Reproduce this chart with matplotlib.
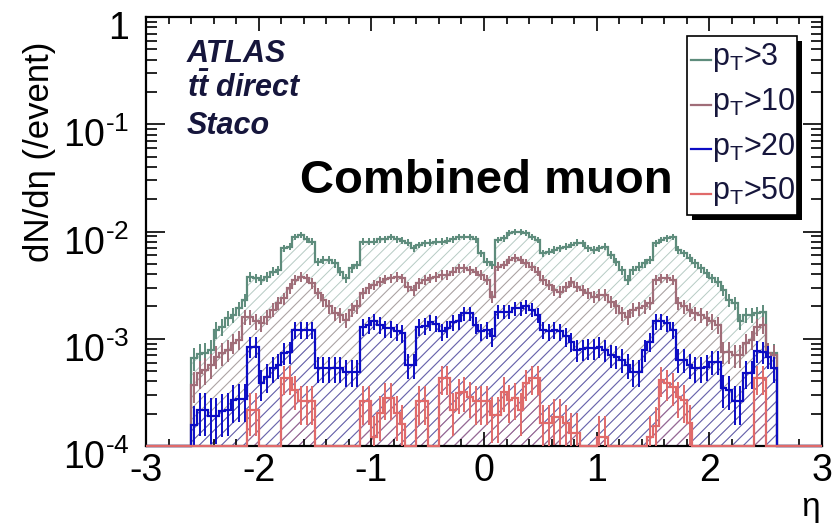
import numpy as np
import matplotlib.pyplot as plt
import matplotlib.colors as mcolors
from matplotlib.patches import Rectangle
from matplotlib.lines import Line2D
from matplotlib.transforms import ScaledTranslation
from matplotlib.ticker import MultipleLocator, LogLocator, FixedLocator, FixedFormatter, NullFormatter

plt.rcParams['font.family'] = ['Liberation Sans', 'DejaVu Sans']
plt.rcParams['mathtext.fontset'] = 'custom'
plt.rcParams['mathtext.rm'] = 'Liberation Sans'
plt.rcParams['mathtext.it'] = 'Liberation Sans:italic'
plt.rcParams['mathtext.bf'] = 'Liberation Sans:bold'
plt.rcParams['mathtext.bfit'] = 'Liberation Sans:bold:italic'
plt.rcParams['axes.unicode_minus'] = False
plt.rcParams['hatch.linewidth'] = 0.7

# dN/deta per event in units of 1e-3, 0.05 wide bins from eta = -2.6 to 2.6
pt3 = [0.66, 0.72, 0.74, 0.79, 1.21, 1.30, 1.55, 1.67, 1.92, 2.30,
       3.80, 3.67, 3.54, 3.80, 4.23, 4.38, 6.98, 7.23, 8.84, 9.29,
       8.47, 8.05, 5.25, 5.44, 5.44, 5.06, 4.23, 3.67, 4.54, 4.88,
       8.05, 8.05, 8.05, 8.47, 8.47, 8.84, 8.47, 8.23, 7.88, 6.98,
       7.49, 7.77, 7.88, 8.05, 8.05, 8.23, 8.47, 8.84, 8.84, 8.84,
       8.47, 6.27, 5.25, 4.88, 8.35, 8.65, 9.64, 9.98, 9.84, 9.64,
       8.97, 8.35, 6.27, 6.50, 6.73, 6.98, 7.23, 7.49, 7.88, 7.77,
       6.98, 6.73, 6.98, 7.23, 6.05, 5.25, 4.38, 3.54, 4.38, 4.71,
       5.06, 5.44, 7.77, 8.35, 8.65, 8.84, 6.73, 6.27, 5.63, 5.06,
       4.54, 4.08, 3.67, 3.41, 2.85, 2.30, 2.14, 1.45, 1.67, 1.67,
       1.73, 1.79, 0.73, 0.73]
pt10 = [0.371, 0.477, 0.512, 0.570, 0.682, 0.733, 0.787, 0.908, 0.976, 1.61,
        1.61, 1.45, 1.40, 1.61, 1.86, 2.14, 2.39, 2.96, 3.54, 3.80,
        3.67, 3.29, 2.66, 2.30, 2.00, 1.73, 1.67, 1.50, 1.86, 2.00,
        2.66, 2.96, 3.18, 3.41, 3.59, 3.67, 3.80, 3.67, 3.06, 2.85,
        3.29, 3.54, 3.67, 3.80, 3.94, 3.94, 4.23, 4.54, 4.54, 4.38,
        4.23, 3.94, 3.54, 2.47, 4.71, 4.88, 5.44, 5.63, 5.44, 5.06,
        4.71, 4.23, 3.54, 3.18, 2.85, 2.75, 3.06, 3.41, 3.06, 2.85,
        2.66, 2.47, 2.56, 2.56, 2.22, 2.00, 1.73, 1.61, 1.86, 1.92,
        2.00, 2.14, 3.54, 3.67, 3.67, 3.54, 2.14, 2.00, 1.86, 1.73,
        1.67, 1.55, 1.45, 1.35, 0.759, 0.759, 0.707, 0.707, 0.908, 0.976,
        1.30, 1.35, 0.733, 0.707]
pt20 = [0.157, 0.217, 0.217, 0.191, 0.191, 0.214, 0.217, 0.269, 0.273, 0.273,
        0.846, 0.846, 0.390, 0.444, 0.531, 0.570, 0.743, 0.759, 1.21, 1.21,
        1.21, 1.21, 0.531, 0.531, 0.531, 0.531, 0.531, 0.494, 0.494, 0.494,
        1.30, 1.35, 1.45, 1.35, 1.25, 1.25, 1.17, 1.12, 0.570, 0.570,
        1.30, 1.32, 1.42, 1.38, 1.17, 1.25, 1.42, 1.45, 1.73, 1.73,
        1.35, 1.17, 1.21, 1.05, 1.79, 1.79, 1.79, 1.92, 1.92, 2.00,
        1.86, 1.67, 1.21, 1.17, 1.21, 1.17, 1.05, 0.941, 0.787, 0.798,
        0.816, 0.816, 0.846, 0.787, 0.707, 0.682, 0.635, 0.570, 0.494, 0.494,
        0.787, 0.941, 1.45, 1.45, 1.40, 1.21, 0.635, 0.635, 0.570, 0.531,
        0.531, 0.551, 0.613, 0.613, 0.346, 0.334, 0.260, 0.260, 0.477, 0.477,
        0.776, 0.759, 0.682, 0.531]
pt50 = [0, 0, 0, 0, 0, 0, 0, 0, 0, 0,
        0.217, 0.217, 0, 0, 0, 0, 0.428, 0.428, 0.334, 0.26,
        0.26, 0.26, 0, 0, 0, 0, 0, 0, 0, 0,
        0.26, 0.26, 0.122, 0.202, 0.279, 0.279, 0.202, 0.161, 0, 0,
        0.26, 0.26, 0, 0, 0.428, 0.428, 0.217, 0.31, 0.322, 0.289,
        0.26, 0.26, 0.26, 0.195, 0.195, 0.322, 0.269, 0.279, 0.217, 0.385,
        0.428, 0.428, 0.163, 0.163, 0.188, 0.188, 0.163, 0.132, 0.132, 0,
        0, 0, 0.122, 0.122, 0, 0, 0, 0, 0, 0,
        0, 0.122, 0.152, 0.413, 0.385, 0.358, 0.289, 0.269, 0.163, 0,
        0, 0, 0, 0, 0, 0, 0, 0, 0, 0,
        0.428, 0.428, 0, 0]

labels = [r'p$_{\rm T}$>3', r'p$_{\rm T}$>10', r'p$_{\rm T}$>20', r'p$_{\rm T}$>50']
colors = ['#5e8c7c', '#a06d78', '#0c0cc4', '#e06a6a']
event_weight = 4e-5   # weight of one entry, sets the Poisson error bars

ytick_vals = [1e-4, 1e-3, 1e-2, 1e-1, 1]
ytick_text = [r'$10^{\text{-}4}$', r'$10^{\text{-}3}$', r'$10^{\text{-}2}$', r'$10^{\text{-}1}$', '1']

edges = np.round(np.arange(-3.0, 3.0001, 0.05), 3)
centers = 0.5 * (edges[1:] + edges[:-1])
pad = np.zeros(8)
ymin = 1e-4

W, H = 834, 527
fig = plt.figure(figsize=(W / 100, H / 100), dpi=100)
ax = fig.add_axes([146 / W, 81 / H, 676 / W, 429 / H])
ax.set_yscale('log')

for vals, col in zip([pt3, pt10, pt20, pt50], colors):
    v = np.concatenate([pad, np.array(vals) * 1e-3, pad])
    vd = np.maximum(v, ymin)
    ax.fill_between(edges, np.append(vd, vd[-1]), ymin, step='post',
                    facecolor='none', edgecolor=mcolors.to_rgba(col, 0.45),
                    linewidth=0, hatch='///', zorder=1)
    ax.stairs(vd, edges, baseline=None, color=col, linewidth=1.6, zorder=3, clip_on=False)
    nz = v > 0
    err = np.sqrt(v[nz] * event_weight)
    lo = np.minimum(err, v[nz] - ymin * 0.5)
    ax.errorbar(centers[nz], v[nz], yerr=[lo, err], fmt='none', ecolor=col,
                elinewidth=1.4, capsize=0, zorder=3)

ax.set_xlim(-3, 3)
ax.set_ylim(ymin, 1)
ax.xaxis.set_major_locator(MultipleLocator(1))
ax.xaxis.set_minor_locator(MultipleLocator(0.2))
ax.yaxis.set_major_locator(FixedLocator(ytick_vals))
ax.yaxis.set_major_formatter(FixedFormatter(ytick_text))
ax.yaxis.set_minor_locator(LogLocator(base=10, subs=np.arange(2, 10)))
ax.yaxis.set_minor_formatter(NullFormatter())

ax.tick_params(which='both', direction='in', top=True, right=True, width=1.2, labelsize=27)
ax.tick_params(axis='x', which='major', length=10, pad=5)
ax.tick_params(axis='x', which='minor', length=5)
ax.tick_params(axis='y', which='major', length=14, pad=12)
ax.tick_params(axis='y', which='minor', length=8)
for s in ax.spines.values():
    s.set_linewidth(1.6)

# ROOT puts the y labels a little below their ticks
shift = ScaledTranslation(0, -6 / 72, fig.dpi_scale_trans)
for t in ax.yaxis.get_major_ticks():
    t.label1.set_transform(t.label1.get_transform() + shift)

fig.text(40 / W, 1 - 152 / H, 'dN/dη (/event)', rotation=90, ha='center', va='center', fontsize=25)
fig.text(811 / W, 1 - 516 / H, 'η', ha='center', va='baseline', fontsize=24)

txtc = '#16163c'
fig.text(187 / W, 1 - 62 / H, 'ATLAS', fontsize=22, fontweight='bold', style='italic', color=txtc)
fig.text(187 / W, 1 - 97 / H, r'$\mathbfit{t\bar{t}}$ direct', fontsize=22, fontweight='bold', style='italic', color=txtc)
fig.text(187 / W, 1 - 134 / H, 'Staco', fontsize=22, fontweight='bold', style='italic', color=txtc)
fig.text(486 / W, 1 - 193 / H, 'Combined muon', fontsize=34, fontweight='bold', ha='center', va='baseline')

# legend box with ROOT-like drop shadow
fig.add_artist(Rectangle((692 / W, 1 - 220 / H), 110 / W, 179 / H, transform=fig.transFigure,
                         facecolor='black', edgecolor='none', zorder=5))
fig.add_artist(Rectangle((687 / W, 1 - 215 / H), 110 / W, 179 / H, transform=fig.transFigure,
                         facecolor='white', edgecolor='black', linewidth=1.2, zorder=6))
for i, (lab, col) in enumerate(zip(labels, colors)):
    y = 60 + 44.5 * i
    fig.add_artist(Line2D([691 / W, 711 / W], [1 - y / H, 1 - y / H], transform=fig.transFigure,
                          color=col, linewidth=1.6, zorder=7))
    fig.text(712 / W, 1 - (y - 2) / H, lab, fontsize=22, color=txtc, va='center', zorder=7)

fig.savefig('out.png', dpi=100)
